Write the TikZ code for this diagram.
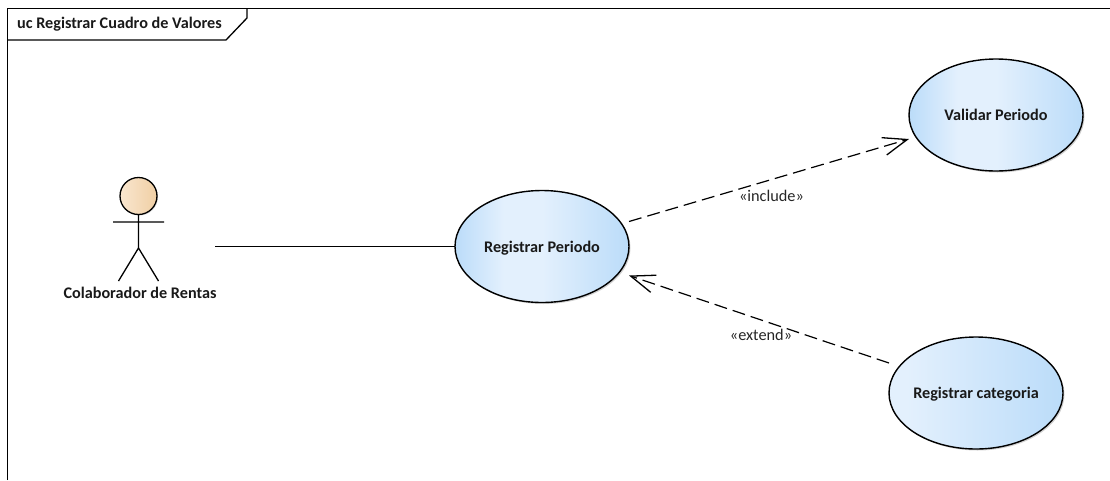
\documentclass[tikz,border=0pt]{standalone}
\usepackage{fontspec}
\setmainfont{Carlito}
\usetikzlibrary{calc,arrows.meta,shadows,shapes.geometric}
\definecolor{ucdark}{HTML}{BBDCF9}
\definecolor{uclight}{HTML}{E3F0FD}
\definecolor{headlight}{HTML}{F9E6CF}
\definecolor{headdark}{HTML}{F0CFA4}
\pgfdeclarehorizontalshading{ucshade}{100bp}{
  color(0bp)=(ucdark); color(25bp)=(ucdark); color(39bp)=(uclight); color(50bp)=(uclight); color(75bp)=(ucdark); color(100bp)=(ucdark)}
\pgfdeclarehorizontalshading{ucshadeb}{100bp}{
  color(0bp)=(uclight); color(30bp)=(uclight); color(75bp)=(ucdark); color(100bp)=(ucdark)}
\newcommand{\uctext}[1]{\raisebox{-5.7pt}[0pt][0pt]{\makebox[0pt][c]{#1}}}
\tikzset{
  usecase/.style={ellipse,draw=black,line width=1.4pt,minimum width=174pt,minimum height=112pt,inner sep=0pt,outer sep=0pt,
    font=\fontsize{16.2}{18}\selectfont\bfseries,text=black!90,
    drop shadow={shadow xshift=1.5pt,shadow yshift=-1.5pt,fill=black,opacity=.18}},
  ucplain/.style={usecase,shading=ucshade},
  ucalt/.style={usecase,shading=ucshadeb},
  conn/.style={draw=black,line width=1.2pt},
  depend/.style={conn,dash pattern=on 13pt off 6pt,-{Straight Barb[length=24pt,width=18pt,line width=1.3pt]}},
  lbl/.style={font=\fontsize{16.3}{18}\selectfont,text=black!85,inner sep=0pt},
  frameline/.style={draw=black,line width=1.3pt},
  actorline/.style={draw=black,line width=1.3pt},
  boldlbl/.style={font=\fontsize{16.2}{18}\selectfont\bfseries,text=black!90,inner sep=0pt},
}
\begin{document}
\begin{tikzpicture}[x=1pt,y=-1pt]
\useasboundingbox (0,0) rectangle (1110,480);
% frame
\draw[frameline] (7.5,480) -- (7.5,8.5) -- (1110,8.5);
\draw[frameline] (7.5,40) -- (226,40) -- (247,18) -- (247,8.5);
\node[boldlbl,anchor=west] (title) at (17,24.5) {uc Registrar Cuadro de Valores};
% use cases
\node[ucplain] (rp) at (542,246.5) {\uctext{Registrar Periodo}};
\node[ucplain] (vp) at (996,115) {\uctext{Validar Periodo}};
\node[ucalt] (rc) at (976,393) {\uctext{Registrar categoria}};
% actor
\node[circle,draw=black,line width=1.3pt,minimum size=37pt,inner sep=0pt,outer sep=0pt,
  left color=headlight,right color=headdark,
  drop shadow={shadow xshift=1pt,shadow yshift=-1pt,fill=black,opacity=.15}] (head) at (138.5,196) {};
\coordinate (hip) at (138.5,248);
\coordinate (armL) at (113,222);
\coordinate (armR) at (164,222);
\coordinate (footL) at (118.5,281);
\coordinate (footR) at (158.5,281);
\draw[actorline] (head.south) -- (hip) (armL) -- (armR) (footL) -- (hip) -- (footR);
\node[boldlbl] (actor) at (140,293) {Colaborador de Rentas};
% connectors
\coordinate (assocA) at (215,246.5);
\draw[conn] (assocA) -- (rp.west);
\draw[depend] ($(rp.east)+(0,-25)$) -- ($(vp.west)+(0,24)$);
\draw[depend] ($(rc.west)+(0,-30)$) -- ($(rp.east)+(0,29)$);
\node[lbl] (inc) at (771.5,196) {«include»};
\node[lbl] (ext) at (761,335) {«extend»};
\end{tikzpicture}
\end{document}
